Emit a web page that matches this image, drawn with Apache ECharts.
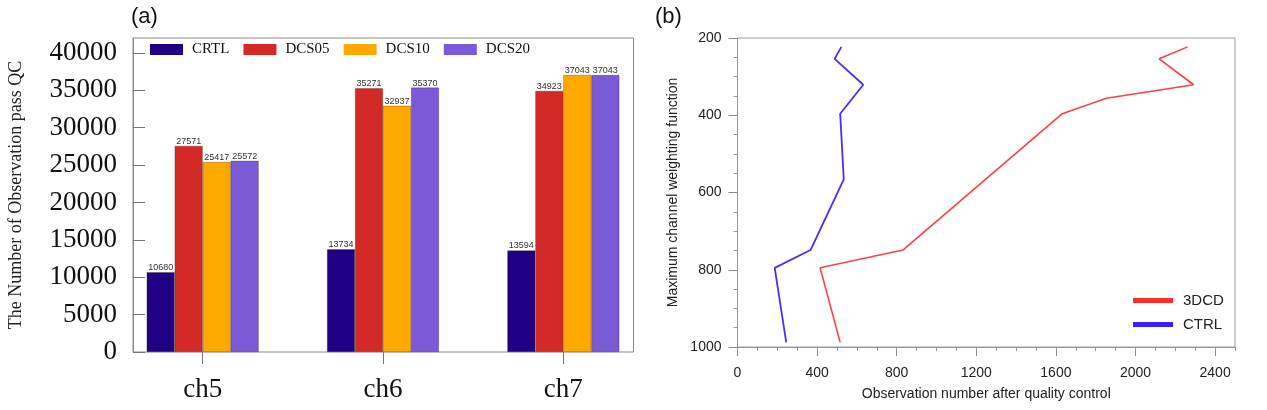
<!DOCTYPE html>
<html>
<head>
<meta charset="utf-8">
<script src="https://cdn.jsdelivr.net/npm/echarts@6/dist/echarts.min.js"></script>
<style>
html,body{margin:0;padding:0;background:#fff;}
#c{width:1267px;height:410px;}
</style>
</head>
<body>
<div id="c"></div>
<script>
// ---- Panel (a) data ----
var categories = ['ch5', 'ch6', 'ch7'];
var crtl  = [10680, 13734, 13594];
var dcs05 = [27571, 35271, 34923];
var dcs10 = [25417, 32937, 37043];
var dcs20 = [25572, 35370, 37043];
var barNames = ['CRTL', 'DCS05', 'DCS10', 'DCS20'];

// ---- Panel (b) data ----
var level3DCD = [223, 254, 321, 356, 396, 749, 795, 988];
var obs3DCD   = [2262, 2119, 2292, 1854, 1632, 831, 415, 516];
var levelCTRL = [223, 254, 321, 356, 396, 566, 749, 795, 988];
var obsCTRL   = [522, 488, 632, 578, 516, 534, 367, 187, 245];
var xTicksB = [0, 400, 800, 1200, 1600, 2000, 2400];
var yTicksA = [0, 5000, 10000, 15000, 20000, 25000, 30000, 35000, 40000];

function pairs(xs, ys) { return xs.map(function (x, i) { return [x, ys[i]]; }); }
function plain(v) { return String(v); }

var barColors = ['#1f0082', '#d42a27', '#ffa800', '#7a5ad6'];
var barData = [crtl, dcs05, dcs10, dcs20];
var serif = '"Liberation Serif", "DejaVu Serif", serif';
var sans = '"Liberation Sans", Arial, sans-serif';

var barSeries = barData.map(function (d, i) {
  return {
    name: barNames[i], type: 'bar', xAxisIndex: 0, yAxisIndex: 0,
    data: d, barWidth: 28, barGap: '0%',
    itemStyle: { color: barColors[i], borderColor: 'rgba(60,40,20,0.55)', borderWidth: 0.6 },
    label: { show: true, position: 'top', distance: 0, fontSize: 9, color: '#333', fontFamily: sans },
    silent: true, animation: false
  };
});

var option = {
  animation: false,
  grid: [
    { left: 112.5, right: 613.5, top: 38, bottom: 58 },
    { left: 133, right: 633.5, top: 38, bottom: 58, show: true, borderColor: '#8a8a8a', borderWidth: 1, backgroundColor: 'transparent' },
    { left: 737.5, right: 32, top: 38, bottom: 63, show: true, borderColor: '#9a9a9a', borderWidth: 1, backgroundColor: 'transparent' }
  ],
  xAxis: [
    { gridIndex: 0, type: 'category', data: categories,
      axisLine: { show: false },
      axisTick: { show: true, alignWithLabel: true, length: 12, lineStyle: { color: '#777' } },
      axisLabel: { fontFamily: serif, fontSize: 27, color: '#111', margin: 24 } },
    { gridIndex: 1, type: 'value', min: 0, max: 1, show: false },
    { gridIndex: 2, type: 'value', min: 0, max: 2500, position: 'bottom',
      axisLine: { show: true, lineStyle: { color: '#9a9a9a' } },
      axisTick: { show: true, length: 9, customValues: xTicksB, lineStyle: { color: '#888' } },
      minorTick: { show: false },
      axisLabel: { customValues: xTicksB, formatter: plain, fontFamily: sans, fontSize: 14, color: '#222', margin: 19 },
      splitLine: { show: false },
      name: 'Observation number after quality control', nameLocation: 'middle', nameGap: 40,
      nameTextStyle: { fontFamily: sans, fontSize: 14, color: '#222' } },
    { gridIndex: 2, type: 'value', min: 0, max: 2500, interval: 100, position: 'bottom',
      axisLine: { show: false },
      axisTick: { show: true, length: 4, lineStyle: { color: '#999' } },
      axisLabel: { show: false }, splitLine: { show: false } }
  ],
  yAxis: [
    { gridIndex: 0, type: 'value', min: 0, max: 42000, show: false },
    { gridIndex: 1, type: 'value', min: 0, max: 42000,
      axisLine: { show: true, lineStyle: { color: '#8a8a8a' } },
      axisTick: { show: true, inside: true, length: 12, customValues: yTicksA, lineStyle: { color: '#777' } },
      axisLabel: { customValues: yTicksA, formatter: plain, fontFamily: serif, fontSize: 27, color: '#111', margin: 16 },
      splitLine: { show: false },
      name: 'The Number of Observation pass QC', nameLocation: 'middle', nameGap: 108,
      nameTextStyle: { fontFamily: serif, fontSize: 18, color: '#222' } },
    { gridIndex: 2, type: 'value', min: 200, max: 1000, interval: 200, inverse: true,
      axisLine: { show: true, lineStyle: { color: '#9a9a9a' } },
      axisTick: { show: true, length: 9, lineStyle: { color: '#888' } },
      minorTick: { show: true, splitNumber: 4, length: 4, lineStyle: { color: '#999' } },
      axisLabel: { formatter: plain, fontFamily: sans, fontSize: 14, color: '#222', margin: 16 },
      splitLine: { show: false },
      name: 'Maximum channel weighting function', nameLocation: 'middle', nameGap: 57,
      nameTextStyle: { fontFamily: sans, fontSize: 14, color: '#222' } }
  ],
  legend: [
    { data: barNames, left: 150, top: 42, padding: 0, itemWidth: 33, itemHeight: 11, itemGap: 14,
      icon: 'rect', selectedMode: false,
      itemStyle: { borderWidth: 0 },
      textStyle: { fontFamily: serif, fontSize: 15, color: '#111', padding: [0, 0, 0, 4] } },
    { data: [{ name: '3DCD', itemStyle: { color: '#ff2e2e' } }, { name: 'CTRL', itemStyle: { color: '#3a1cff' } }],
      orient: 'vertical', left: 1133, top: 293, padding: 0, itemWidth: 40, itemHeight: 5, itemGap: 9,
      icon: 'rect', selectedMode: false,
      textStyle: { fontFamily: sans, fontSize: 15, color: '#222', padding: [0, 0, 0, 5] } }
  ],
  graphic: [
    { type: 'text', left: 131, top: 6, style: { text: '(a)', font: '22px ' + sans, fill: '#111' } },
    { type: 'text', left: 655, top: 6, style: { text: '(b)', font: '22px ' + sans, fill: '#111' } }
  ],
  series: barSeries.concat([
    { name: '3DCD', type: 'line', xAxisIndex: 2, yAxisIndex: 2, data: pairs(obs3DCD, level3DCD),
      showSymbol: false, symbol: 'none', lineStyle: { color: '#ff4040', width: 1.6 }, itemStyle: { color: '#ff2e2e' } },
    { name: 'CTRL', type: 'line', xAxisIndex: 2, yAxisIndex: 2, data: pairs(obsCTRL, levelCTRL),
      showSymbol: false, symbol: 'none', lineStyle: { color: '#4a2cff', width: 1.8 }, itemStyle: { color: '#3a1cff' } }
  ])
};

var chart = echarts.init(document.getElementById('c'), null, { renderer: 'canvas' });
chart.setOption(option);
</script>
</body>
</html>
